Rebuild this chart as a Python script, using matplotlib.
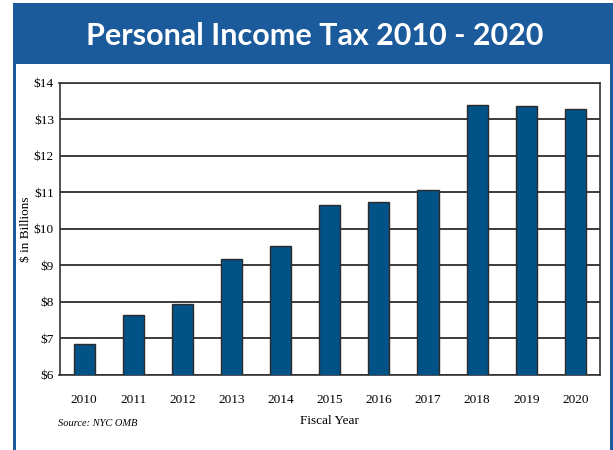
import numpy as np
import matplotlib.pyplot as plt
from matplotlib.patches import Rectangle

years = ['2010', '2011', '2012', '2013', '2014', '2015', '2016', '2017', '2018', '2019', '2020']
pit = [6.86, 7.64, 7.95, 9.17, 9.54, 10.64, 10.74, 11.07, 13.40, 13.35, 13.27]
yticks = [6, 7, 8, 9, 10, 11, 12, 13, 14]
ytick_labels = ['$6', '$7', '$8', '$9', '$10', '$11', '$12', '$13', '$14']

W, H = 613, 450
fig = plt.figure(figsize=(W / 100, H / 100), dpi=100)

frame_blue = '#1b5a9b'
bar_blue = '#015287'

# frame: header band and side borders (behind the axes)
fig.patches.append(Rectangle((13 / W, 0), 600 / W, 1 - 3 / H, transform=fig.transFigure,
                             facecolor=frame_blue, edgecolor='none', zorder=-2))
fig.patches.append(Rectangle((16 / W, 0), 594 / W, 1 - 64 / H, transform=fig.transFigure,
                             facecolor='white', edgecolor='none', zorder=-1))
fig.text(315 / W, 1 - 36 / H, 'Personal Income Tax 2010 - 2020', color='white',
         fontsize=22, fontweight='bold', family='Lato', ha='center', va='center')

ax = fig.add_axes([59.5 / W, 1 - 375 / H, 540.5 / W, 292.3 / H])
x = np.arange(len(years))
ax.bar(x, pit, width=0.43, color=bar_blue, edgecolor='#2b2b2b', linewidth=1, zorder=3)

ax.set_xlim(-0.5, 10.5)
ax.set_ylim(6, 14)
ax.set_yticks(yticks)
ax.set_yticklabels(ytick_labels)
ax.set_xticks(x)
ax.set_xticklabels(years)
ax.grid(axis='y', color='#1a1a1a', linewidth=1.2, zorder=1)
ax.tick_params(length=0, labelsize=9.5)
ax.tick_params(axis='x', pad=14)
ax.tick_params(axis='y', pad=4)
for lab in ax.get_xticklabels() + ax.get_yticklabels():
    lab.set_family('Liberation Serif')
for s in ax.spines.values():
    s.set_color('#333333')
    s.set_linewidth(1.2)

ax.set_xlabel('Fiscal Year', family='Liberation Serif', fontsize=9.5, labelpad=6)
ax.set_ylabel('$ in Billions', family='Liberation Serif', fontsize=9.5, labelpad=1)

fig.text(58 / W, 1 - 424 / H, 'Source: NYC OMB', family='Liberation Serif', style='italic',
         fontsize=7.5, va='center')

fig.savefig('out.png', dpi=100)
